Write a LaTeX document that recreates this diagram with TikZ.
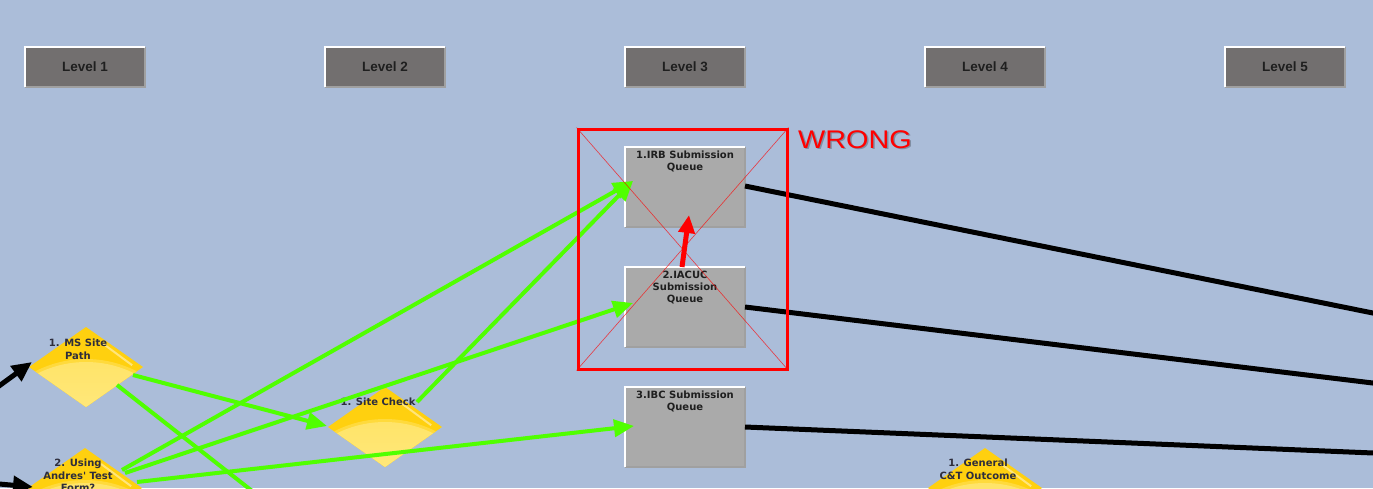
\documentclass[tikz,border=0pt]{standalone}
\usepackage{fontspec}
\newfontfamily\dvs{DejaVu Sans}
\newfontfamily\arialf{Liberation Sans}
\usetikzlibrary{arrows.meta,shapes.geometric,calc}
\definecolor{bg}{RGB}{171,189,217}
\definecolor{lvfill}{RGB}{114,111,111}
\definecolor{qfill}{RGB}{170,170,170}
\definecolor{edgegray}{RGB}{160,160,160}
\definecolor{grn}{RGB}{80,255,0}
\definecolor{gold}{RGB}{255,208,15}
\definecolor{goldmid}{RGB}{255,218,60}
\definecolor{goldlight}{RGB}{255,228,105}
\definecolor{goldpale}{RGB}{255,244,185}
\definecolor{dtext}{RGB}{45,45,60}
\tikzset{
 levelbox/.style={rectangle, fill=lvfill, minimum width=120pt, minimum height=40pt, inner sep=0pt, outer sep=0pt, font=\arialf\bfseries\fontsize{13.5}{14}\selectfont, text=black!88},
 qbox/.style={rectangle, fill=qfill, minimum width=120pt, minimum height=80pt, inner sep=0pt, outer sep=0pt},
 qtext/.style={anchor=north, inner sep=0pt, align=center, font=\dvs\bfseries\fontsize{10}{12}\selectfont, text=black!88},
 dia/.style={diamond, fill=gold, minimum width=114pt, minimum height=80pt, inner sep=0pt, outer sep=0pt},
 dtxt/.style={anchor=north, inner sep=0pt, align=center, font=\dvs\bfseries\fontsize{10}{12.3}\selectfont, text=dtext},
 garrow/.style={draw=grn, line width=4pt, -{Triangle[length=20pt,width=17pt]}},
 gline/.style={draw=grn, line width=4pt},
 bline/.style={draw=black, line width=5pt},
 barrow/.style={draw=black, line width=5pt, -{Triangle[length=20pt,width=18pt]}},
 rarrow/.style={draw=red, line width=5pt, -{Triangle[length=18pt,width=16pt]}},
 whiteedge/.style={draw=white, line width=2.5pt},
 grayedge/.style={draw=edgegray, line width=2.5pt},
}
\newcommand\bevelbox[1]{%
  \draw[grayedge] (#1.north east) -- (#1.south east) -- (#1.south west);
  \draw[whiteedge] (#1.south west) -- (#1.north west) -- (#1.north east);}
\newcommand\shadedia[1]{%
  \begin{scope}
    \clip (#1.north) -- (#1.east) -- (#1.south) -- (#1.west) -- cycle;
    \fill[goldmid] ($(#1.center)+(0,103)$) circle (111);
    \shade[top color=goldlight, bottom color=goldpale] ($(#1.center)+(0,103)$) circle (108);
    \draw[white, opacity=0.45, line width=2pt] ($(#1.north)!0.3!(#1.east)+(-1,4)$) -- ($(#1.north)!0.88!(#1.east)+(-4,3)$);
  \end{scope}}
\begin{document}
\begin{tikzpicture}[x=1pt,y=-1pt]
\useasboundingbox (0,0) rectangle (1373,488);
\clip (0,0) rectangle (1373,488);
\fill[bg] (0,0) rectangle (1373,488);

% level headers
\foreach \i/\x in {1/85,2/385,3/685,4/985,5/1285}{
  \node[levelbox] (lvl\i) at (\x,67) {Level \i};
  \bevelbox{lvl\i}
}

% queue boxes
\node[qbox] (irb) at (685,187) {};
\node[qbox] (iacuc) at (685,307) {};
\node[qbox] (ibc) at (685,427) {};
\bevelbox{irb}\bevelbox{iacuc}\bevelbox{ibc}
\node[qtext] (irbt) at (685,151) {1.IRB Submission\\Queue};
\node[qtext] (iacuct) at (685,271) {2.IACUC\\Submission\\Queue};
\node[qtext] (ibct) at (685,391) {3.IBC Submission\\Queue};

% diamonds
\node[dia] (ms) at (86,367) {};
\node[dia] (site) at (385,427) {};
\node[dia] (andres) at (85,488) {};
\node[dia] (gen) at (985,488) {};
\shadedia{ms}\shadedia{site}\shadedia{andres}\shadedia{gen}
\node[dtxt] (mst) at (78,339) {1. MS Site\\Path};
\node[dtxt] (sitet) at (378,398) {1. Site Check};
\node[dtxt] (andrest) at (78,459) {2. Using\\Andres' Test\\Form?};
\node[dtxt] (gent) at (978,459) {1. General\\C\&T Outcome};

% off-picture ends
\coordinate (offa) at (-12,394);
\coordinate (offb) at (-12,483);
\coordinate (offc) at (270,505);
\coordinate (offd) at (1400,318.5);
\coordinate (offe) at (1400,386.3);
\coordinate (offf) at (1400,454.1);

% black connectors
\draw[barrow] (offa) -- ($(ms.center)+(-54,-5)$);
\draw[barrow] (offb) -- ($(andres.center)+(-52,-1)$);
\draw[bline] ($(irb.center)+(60,-1)$) -- (offd);
\draw[bline] ($(iacuc.center)+(60,0)$) -- (offe);
\draw[bline] ($(ibc.center)+(60,0)$) -- (offf);

% green connectors
\draw[gline] ($(ms.center)+(31,18)$) -- (offc);
\draw[garrow] ($(ms.center)+(47,8)$) -- ($(site.center)+(-58,-1)$);
\draw[garrow] ($(andres.center)+(37,-18)$) -- ($(irb.center)+(-52,-6)$);
\draw[garrow] ($(andres.center)+(40,-15)$) -- ($(iacuc.center)+(-52,-4)$);
\draw[garrow] ($(andres.center)+(52,-6)$) -- ($(ibc.center)+(-51,-1)$);
\draw[garrow] ($(site.center)+(32,-25)$) -- ($(irb.center)+(-52,-6)$);

% WRONG overlay
\node[draw=red, line width=3pt, minimum width=209pt, minimum height=240pt, inner sep=0pt] (wrongbox) at (682.5,249) {};
\draw[red, opacity=0.7, line width=0.6pt] (wrongbox.north west) -- (wrongbox.south east);
\draw[red, opacity=0.7, line width=0.6pt] (wrongbox.south west) -- (wrongbox.north east);
\draw[rarrow] ($(iacuc.center)+(-3,-40)$) -- ($(irb.center)+(4,28)$);
\node[anchor=base west, inner sep=0pt, xscale=1.13, font=\arialf\fontsize{25.5}{26}\selectfont, text=black, opacity=0.25] at (799.5,149.5) {WRONG};
\node[anchor=base west, inner sep=0pt, xscale=1.13, font=\arialf\fontsize{25.5}{26}\selectfont, text=red] (wrong) at (798,148) {WRONG};
\end{tikzpicture}
\end{document}
